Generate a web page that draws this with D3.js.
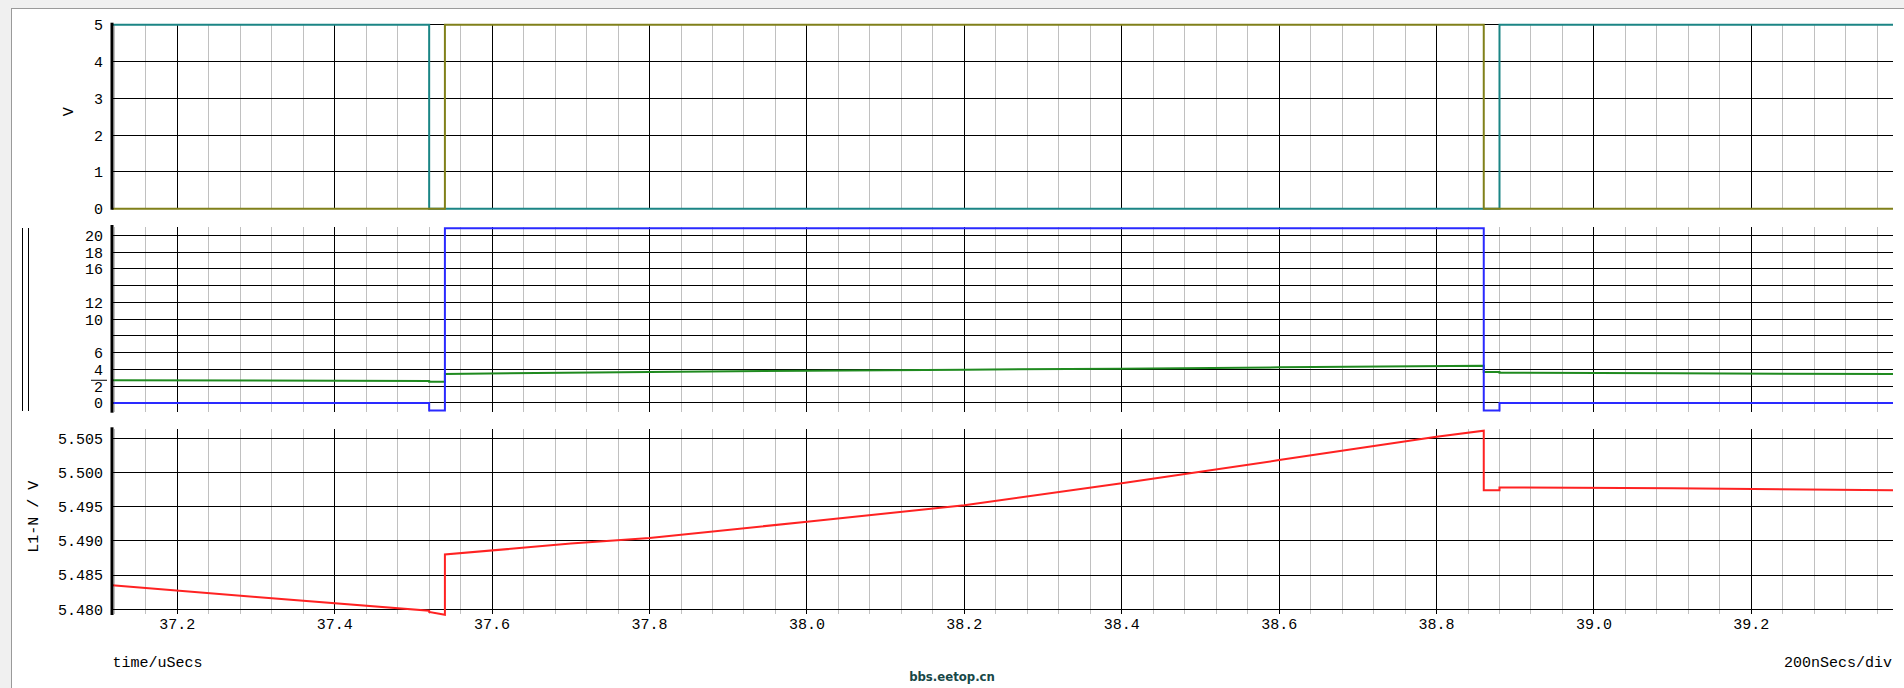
<!DOCTYPE html>
<html><head><meta charset="utf-8">
<script src="https://cdn.jsdelivr.net/npm/d3@7"></script>
<style>body{margin:0;background:#fff;overflow:hidden}svg{display:block}text{font-family:"Liberation Mono",monospace;font-size:15px;fill:#000}</style>
</head><body><svg id="c" width="1904" height="688"></svg>
<script>
// ---- data ----
const timeDomain = [37.117, 39.38];
const xTickValues = [37.2, 37.4, 37.6, 37.8, 38.0, 38.2, 38.4, 38.6, 38.8, 39.0, 39.2];
const xTickLabels = ["37.2","37.4","37.6","37.8","38.0","38.2","38.4","38.6","38.8","39.0","39.2"];
const p1Ticks = [0,1,2,3,4,5];
const p2Grid = [0,2,4,6,8,10,12,14,16,18,20];
const p2Labels = [0,2,4,6,10,12,16,18,20];
const p3Ticks = [5.480,5.485,5.490,5.495,5.500,5.505];

const tealT = [37.117,37.52,37.52,38.88,38.88,39.38];
const tealV = [5,5,0,0,5,5];
const oliveT = [37.117,37.54,37.54,38.86,38.86,39.38];
const oliveV = [0,0,5,5,0,0];
const blueT = [37.117,37.52,37.52,37.54,37.54,38.86,38.86,38.88,38.88,39.38];
const blueV = [0,0,-0.9,-0.9,20.85,20.85,-0.9,-0.9,0,0];
const greenT = [37.117,37.3,37.52,37.52,37.54,37.54,37.8,38.0,38.2,38.4,38.6,38.86,38.86,38.88,38.88,39.1,39.38];
const greenV = [2.71,2.67,2.63,2.54,2.54,3.46,3.70,3.85,3.97,4.10,4.25,4.45,3.70,3.70,3.62,3.55,3.45];
const redT = [37.117,37.3,37.52,37.52,37.54,37.54,37.7,37.8,38.0,38.2,38.4,38.6,38.8,38.86,38.86,38.88,38.88,39.1,39.38];
const redV = [5.4835,5.4818,5.4798,5.4796,5.4792,5.4880,5.4896,5.4904,5.4928,5.4952,5.4984,5.5018,5.5052,5.5061,5.4974,5.4974,5.4978,5.4977,5.4974];

// ---- layout ----
const svg = d3.select("#c");
const L = 112, R = 1893;
const x = d3.scaleLinear().domain(timeDomain).range([L, R]);
const panels = [
  {y: d3.scaleLinear().domain([0,5]).range([208.7,24.7]), top:24.7, bot:208.7},
  {y: d3.scaleLinear().domain([-1.04,21.0]).range([411.7,227]), top:227, bot:411.7},
  {y: d3.scaleLinear().domain([5.47931,5.5063]).range([614,429.3]), top:429.3, bot:614}
];

// frame
svg.append("rect").attr("x",0).attr("y",0).attr("width",1904).attr("height",8).attr("fill","#f0f0f0");
svg.append("rect").attr("x",0).attr("y",0).attr("width",11).attr("height",688).attr("fill","#f0f0f0");
svg.append("line").attr("x1",11).attr("x2",1904).attr("y1",8.5).attr("y2",8.5).attr("stroke","#9a9a9a");
svg.append("line").attr("x1",11.5).attr("x2",11.5).attr("y1",8).attr("y2",688).attr("stroke","#9a9a9a");

const minorT = d3.range(0, 60).map(i => +(37.12 + i*0.04).toFixed(2)).filter(t => t >= timeDomain[0] && t <= timeDomain[1] && Math.abs(Math.round(t*5) - t*5) > 1e-6);

panels.forEach(p => {
  const g = svg.append("g").attr("shape-rendering","crispEdges");
  g.selectAll(".mn").data(minorT).join("line")
    .attr("x1",d=>x(d)).attr("x2",d=>x(d)).attr("y1",p.top).attr("y2",p.bot)
    .attr("stroke","#c0c0c0").attr("stroke-width",1);
  g.selectAll(".mj").data(xTickValues).join("line")
    .attr("x1",d=>x(d)).attr("x2",d=>x(d)).attr("y1",p.top).attr("y2",p.bot)
    .attr("stroke","#000").attr("stroke-width",1);
});

// horizontal grids
const g1 = svg.append("g").attr("shape-rendering","crispEdges");
g1.selectAll("line").data(p1Ticks).join("line").attr("x1",L).attr("x2",R)
  .attr("y1",d=>panels[0].y(d)).attr("y2",d=>panels[0].y(d)).attr("stroke","#000");
const g2 = svg.append("g").attr("shape-rendering","crispEdges");
g2.selectAll("line").data(p2Grid).join("line").attr("x1",L).attr("x2",R)
  .attr("y1",d=>panels[1].y(d)).attr("y2",d=>panels[1].y(d)).attr("stroke","#000");
const g3 = svg.append("g").attr("shape-rendering","crispEdges");
g3.selectAll("line").data(p3Ticks).join("line").attr("x1",L).attr("x2",R)
  .attr("y1",d=>panels[2].y(d)).attr("y2",d=>panels[2].y(d)).attr("stroke","#000");

// y labels
svg.append("g").selectAll("text").data(p1Ticks).join("text")
  .attr("x",103).attr("y",d=>panels[0].y(d)).attr("dy","0.36em").attr("text-anchor","end").text(d=>d);
svg.append("g").selectAll("text").data(p2Labels).join("text")
  .attr("x",103).attr("y",d=>panels[1].y(d)).attr("dy","0.36em").attr("text-anchor","end").text(d=>d);
svg.append("g").selectAll("text").data(p3Ticks).join("text")
  .attr("x",103).attr("y",d=>panels[2].y(d)).attr("dy","0.36em").attr("text-anchor","end").text(d=>d.toFixed(3));

// x labels
svg.append("g").selectAll("text").data(xTickValues).join("text")
  .attr("x",d=>x(d)).attr("y",623.5).attr("dy","0.36em").attr("text-anchor","middle").text((d,i)=>xTickLabels[i]);

// axis titles
svg.append("text").attr("transform","translate(68,111.7) rotate(-90)").attr("text-anchor","middle").attr("dy","0.36em").text("V");
svg.append("text").attr("transform","translate(33,516.7) rotate(-90)").attr("text-anchor","middle").attr("dy","0.36em").text("L1-N / V");
svg.append("text").attr("x",112.5).attr("y",662).attr("dy","0.36em").text("time/uSecs");
svg.append("text").attr("x",1892).attr("y",662).attr("dy","0.36em").attr("text-anchor","end").text("200nSecs/div");
svg.append("text").attr("x",952).attr("y",676).attr("dy","0.36em").attr("text-anchor","middle")
  .style("font-family","'Liberation Sans Narrow','DejaVu Sans Condensed',sans-serif").style("font-weight","bold").style("font-size","13px").style("fill","#174848").text("bbs.eetop.cn");

// left decorations in panel 2
svg.append("line").attr("x1",22.5).attr("x2",22.5).attr("y1",228).attr("y2",411).attr("stroke","#000");
svg.append("line").attr("x1",28.5).attr("x2",28.5).attr("y1",228).attr("y2",411).attr("stroke","#000");
svg.append("line").attr("x1",91).attr("x2",107).attr("y1",panels[1].y(greenV[0])).attr("y2",panels[1].y(greenV[0])).attr("stroke","#000");

// traces
function trace(T, V, p, color, w) {
  const pts = T.map((t,i)=>[t, V[i]]);
  svg.append("path").datum(pts)
    .attr("d", d3.line().x(d=>x(d[0])).y(d=>p.y(d[1])))
    .attr("fill","none").attr("stroke",color).attr("stroke-width",w).attr("stroke-linejoin","miter");
}
trace(tealT, tealV, panels[0], "#1b8585", 2);
trace(oliveT, oliveV, panels[0], "#80801a", 2);
trace(greenT, greenV, panels[1], "#1f8a1f", 2);
trace(blueT, blueV, panels[1], "#2a2aff", 2);
trace(redT, redV, panels[2], "#ff2222", 2);

// axis lines
panels.forEach(p => {
  svg.append("line").attr("x1",112).attr("x2",112).attr("y1",p.top-2).attr("y2",p.bot+1)
    .attr("stroke","#000").attr("stroke-width",3);
});
</script></body></html>
